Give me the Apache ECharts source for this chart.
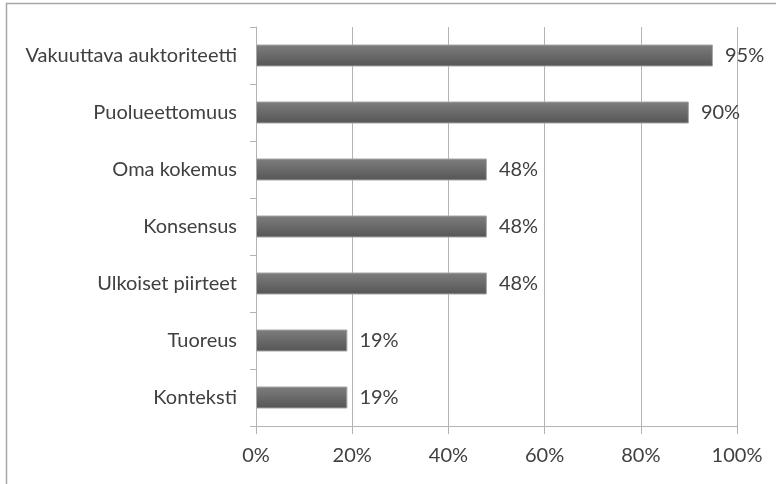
<!DOCTYPE html>
<html>
<head>
<meta charset="utf-8">
<script src="https://cdn.jsdelivr.net/npm/echarts@6/dist/echarts.min.js"></script>
<style>
html, body { margin: 0; padding: 0; background: #fff; }
#main { width: 776px; height: 484px; }
</style>
</head>
<body>
<div id="main"></div>
<script>
var categories = ['Vakuuttava auktoriteetti', 'Puolueettomuus', 'Oma kokemus', 'Konsensus', 'Ulkoiset piirteet', 'Tuoreus', 'Konteksti'];
var values = [95, 90, 48, 48, 48, 19, 19];
var tickMax = 100;
var tickStep = 20;

var fontName = 'Lato';
var textColor = '#404040';
var lineColor = '#b3b3b3';

var myChart = echarts.init(document.getElementById('main'));

var option = {
    animation: false,
    backgroundColor: '#fff',
    graphic: [
        {
            type: 'rect',
            shape: { x: 6.5, y: 3.5, width: 820, height: 520 },
            style: { fill: 'none', stroke: '#a6a6a6', lineWidth: 1.5 },
            silent: true
        }
    ],
    grid: { left: 256, right: 39, top: 27, bottom: 58 },
    xAxis: {
        type: 'value',
        min: 0,
        max: tickMax,
        interval: tickStep,
        axisLine: { show: true, lineStyle: { color: lineColor, width: 1 } },
        axisTick: { show: true, length: 8, lineStyle: { color: lineColor } },
        splitLine: { show: true, lineStyle: { color: lineColor, width: 1 } },
        axisLabel: {
            formatter: '{value}%',
            color: textColor,
            fontFamily: fontName,
            fontSize: 20,
            margin: 20
        }
    },
    yAxis: {
        type: 'category',
        data: categories,
        inverse: true,
        axisLine: { show: true, lineStyle: { color: lineColor, width: 1 } },
        axisTick: { show: true, length: 6, lineStyle: { color: lineColor } },
        splitLine: { show: false },
        axisLabel: {
            color: textColor,
            fontFamily: fontName,
            fontSize: 20,
            margin: 19
        }
    },
    series: [
        {
            type: 'bar',
            data: values,
            barWidth: 22,
            itemStyle: {
                color: new echarts.graphic.LinearGradient(0, 0, 0, 1, [
                    { offset: 0, color: '#7e7e7e' },
                    { offset: 1, color: '#555555' }
                ]),
                borderColor: '#a6a6a6',
                borderWidth: 1
            },
            label: {
                show: true,
                position: 'right',
                distance: 12,
                formatter: '{c}%',
                color: textColor,
                fontFamily: fontName,
                fontSize: 20
            }
        }
    ]
};

myChart.setOption(option);
</script>
</body>
</html>
